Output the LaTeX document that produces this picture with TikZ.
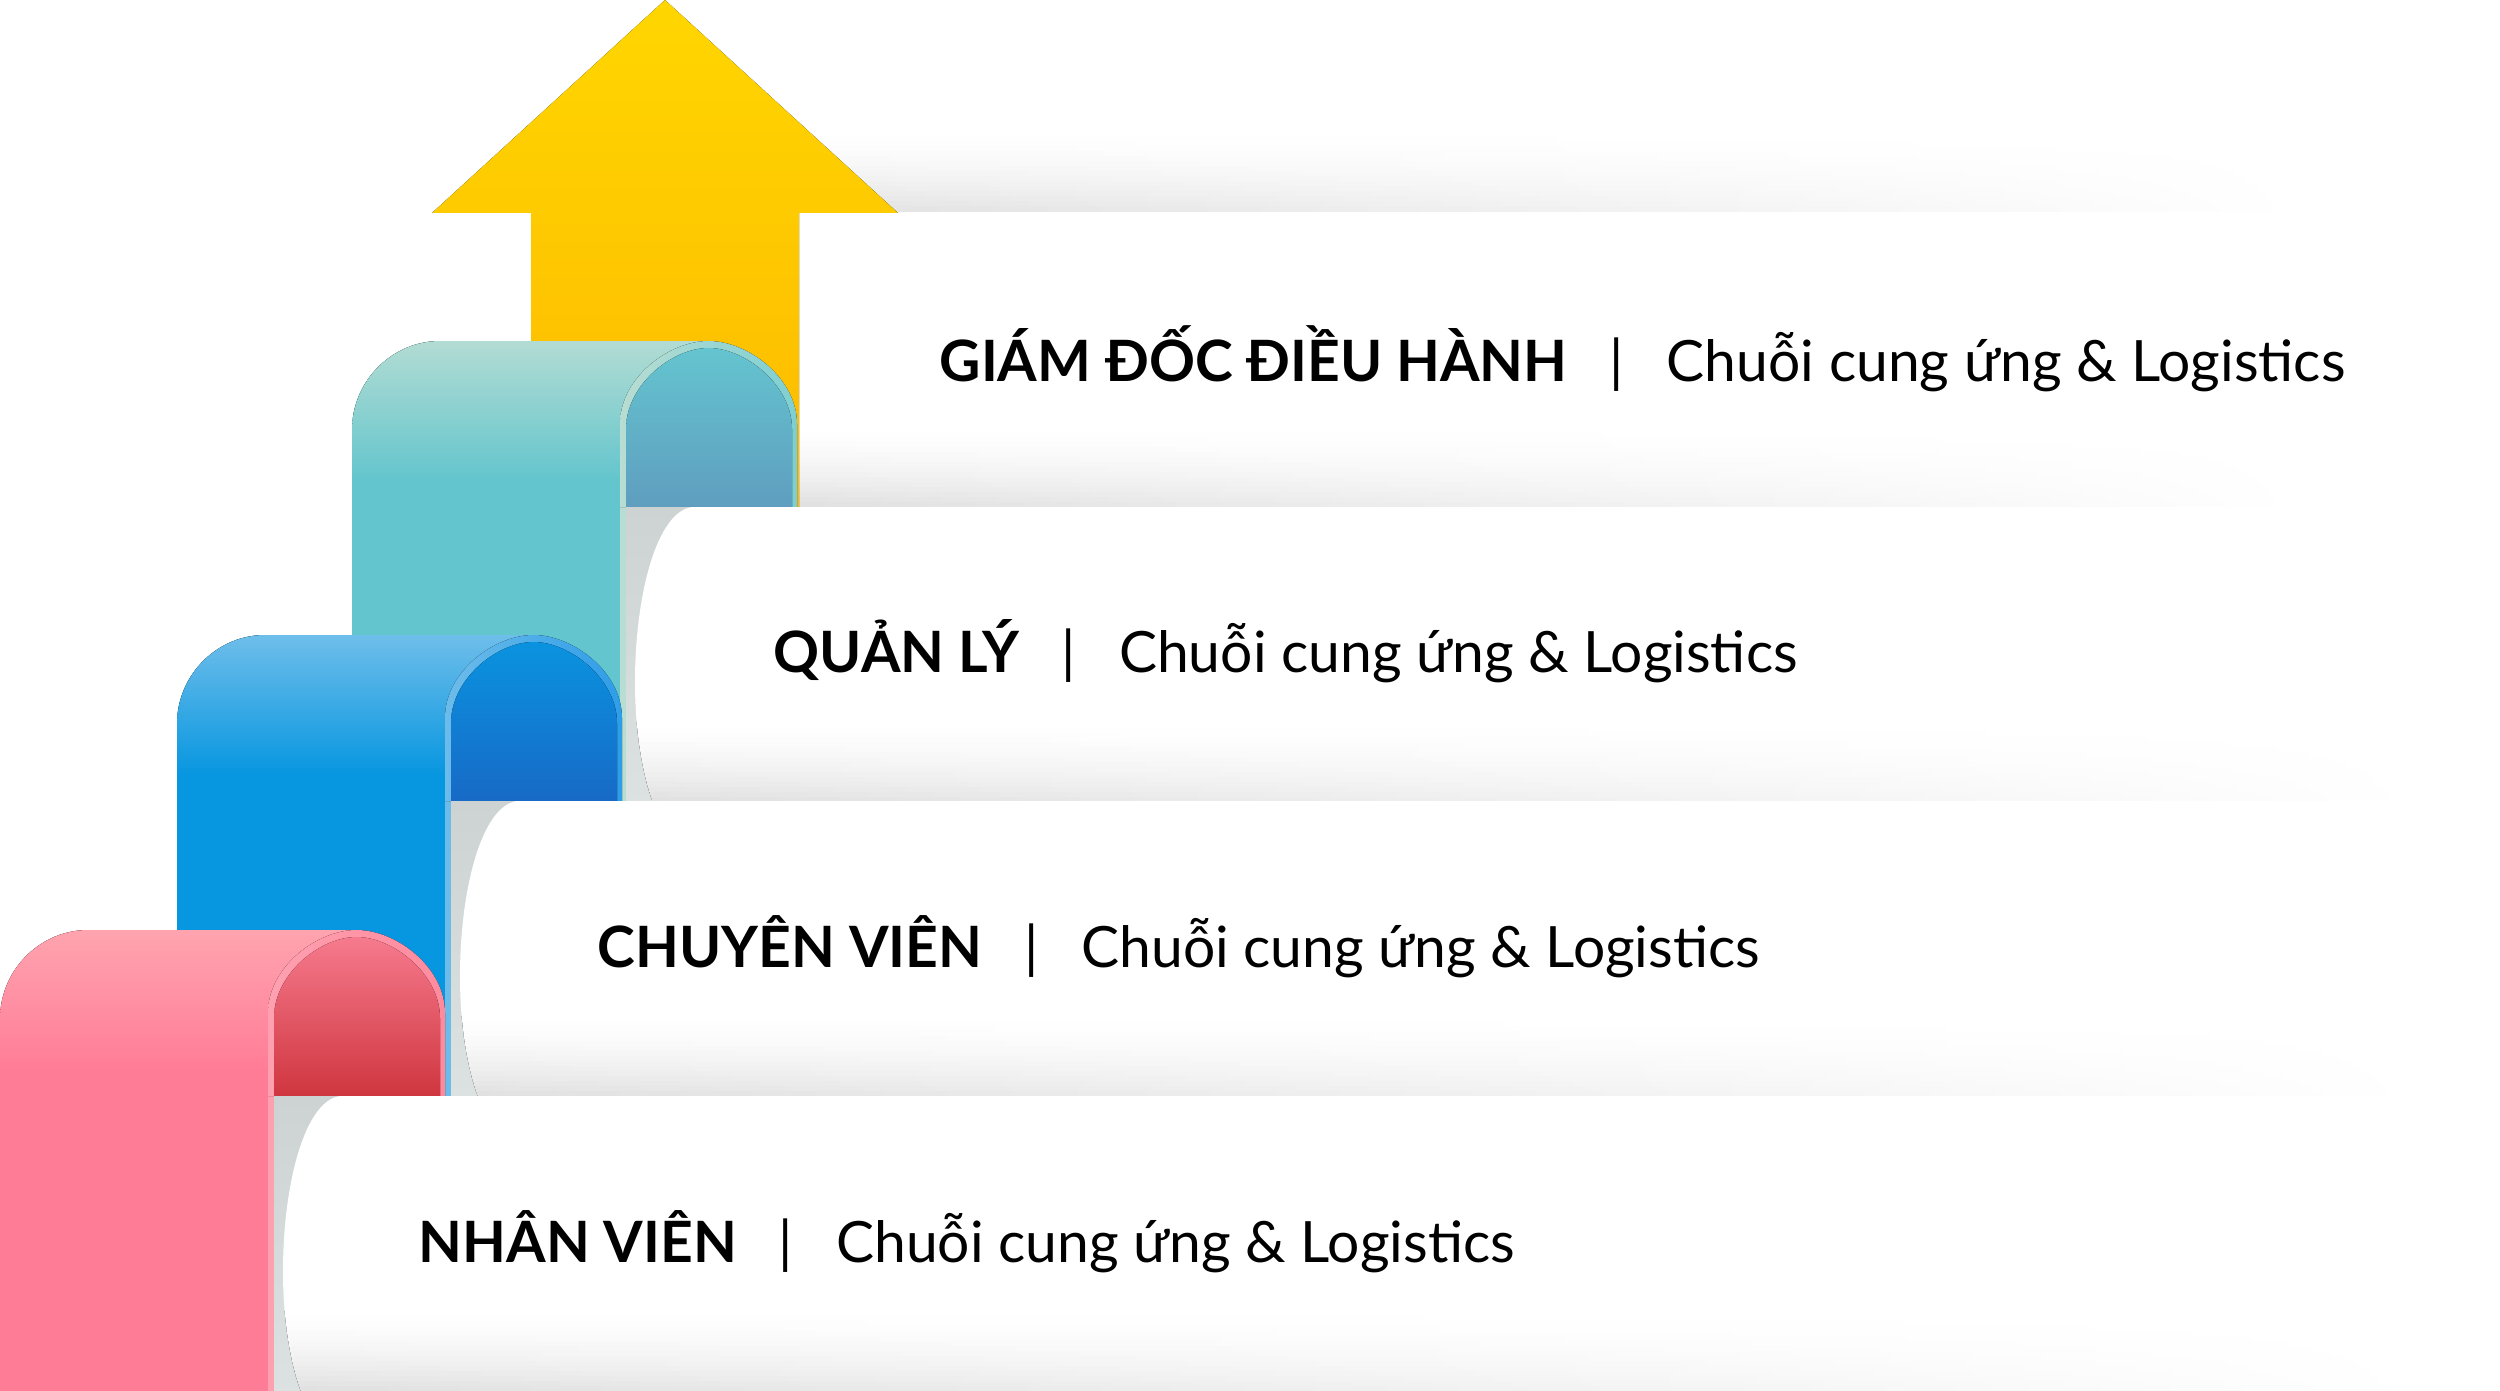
\documentclass[tikz,border=0pt]{standalone}
\usepackage{fontspec}
\setmainfont{Lato}

\definecolor{arrowTop}{HTML}{FFD600}
\definecolor{arrowBot}{HTML}{FDB900}
\definecolor{tealTop}{HTML}{B2DCD3}
\definecolor{tealFront}{HTML}{63C5CD}
\definecolor{tealStripe}{HTML}{B8DDD2}
\definecolor{tealEdge}{HTML}{7ECFD2}
\definecolor{tealBackTop}{HTML}{64C4CF}
\definecolor{tealBackBot}{HTML}{5F9EBF}
\definecolor{blueTop}{HTML}{6EBEEA}
\definecolor{blueFront}{HTML}{0796E0}
\definecolor{blueStripe}{HTML}{6CBCEA}
\definecolor{blueEdge}{HTML}{2E9DE8}
\definecolor{blueBackTop}{HTML}{0A93E0}
\definecolor{blueBackBot}{HTML}{176AC6}
\definecolor{pinkTop}{HTML}{FFA4AF}
\definecolor{pinkFront}{HTML}{FF7C97}
\definecolor{pinkStripe}{HTML}{FFA0B0}
\definecolor{pinkEdge}{HTML}{FF8A9E}
\definecolor{pinkBackTop}{HTML}{F67A8D}
\definecolor{pinkBackBot}{HTML}{CF363F}
\definecolor{capTop}{HTML}{CDD2D3}
\definecolor{capMid}{HTML}{EEF3F3}
\definecolor{capBot}{HTML}{DCE2E2}
\definecolor{shadowGrey}{HTML}{E1E1E1}

\tikzset{
  rank/.style={anchor=base west, inner sep=0pt, font=\fontsize{16.2}{19}\selectfont},
}

% dải bóng mờ: #1 = x trái, #2 = y đáy, #3 = x phải
\newcommand\shadowband[3]{
  \foreach \r in {0,...,15}{
    \pgfmathsetmacro\p{100*((\r+1)/16)^1.6}
    \pgfmathsetmacro\q{0.75*\p}
    \fill[left color=shadowGrey!\p!white, middle color=shadowGrey!\q!white, right color=white]
      (#1,#2-80+5*\r) rectangle (#3,#2-74+5*\r);
  }
}

\begin{document}
\begin{tikzpicture}[x=0.01cm, y=-0.01cm]
  \useasboundingbox (0,0) rectangle (2500,1391);

  % bóng phía trên bậc cao nhất
  \shadowband{700}{212}{2300}
  \fill[white] (0,212) rectangle (2500,220);

  % bậc cao nhất
  \fill[white] (799,212) rectangle (2500,507);
  \shadowband{799}{507}{2300}

  % mũi tên vàng
  \fill[top color=arrowTop, bottom color=arrowBot]
    (665,0) -- (898,213) -- (799,213) -- (799,520) -- (531,520) -- (531,213) -- (432,213) -- cycle;

  % dải lụa và bậc bên dưới
  \foreach \L/\T/\c in {352/341/teal, 177/635/blue, 0/930/pink}{
    % mặt trước
    \fill[\c Front] (\L,1391) -- (\L,\T+89) .. controls (\L,\T+40) and (\L+40,\T) .. (\L+88,\T)
      -- (\L+357,\T) -- (\L+357,\T+166) -- (\L+274,\T+166) -- (\L+274,1391) -- cycle;
    \begin{scope}
      \clip (\L,1391) -- (\L,\T+89) .. controls (\L,\T+40) and (\L+40,\T) .. (\L+88,\T)
        -- (\L+357,\T) -- (\L+357,\T+166) -- (\L+274,\T+166) -- (\L+274,1391) -- cycle;
      \fill[top color=\c Top, bottom color=\c Front] (\L,\T) rectangle (\L+357,\T+140);
    \end{scope}
    \fill[\c Stripe] (\L+268,\T+83) rectangle (\L+274,1391);
    % phần cuộn
    \fill[left color=\c Stripe, right color=\c Edge] (\L+268,\T+166) -- (\L+268,\T+83)
      .. controls (\L+268,\T+37) and (\L+317,\T) .. (\L+356.5,\T)
      .. controls (\L+396,\T) and (\L+445,\T+37) .. (\L+445,\T+83) -- (\L+445,\T+166) -- cycle;
    \fill[top color=\c BackTop, bottom color=\c BackBot] (\L+274,\T+166) -- (\L+274,\T+88)
      .. controls (\L+274,\T+44) and (\L+320,\T+7) .. (\L+356.5,\T+7)
      .. controls (\L+393,\T+7) and (\L+440,\T+44) .. (\L+440,\T+88) -- (\L+440,\T+166) -- cycle;
    % bậc
    \fill[top color=capTop, middle color=capMid, bottom color=capBot]
      (\L+274,\T+166) rectangle (\L+360,\T+462);
    \begin{scope}
      \clip (\L+340,\T+166) .. controls (\L+304,\T+171) and (\L+283,\T+256) .. (\L+283,\T+341)
        .. controls (\L+283,\T+396) and (\L+292,\T+438) .. (\L+301,\T+462) -- (2500,\T+462) -- (2500,\T+166) -- cycle;
      \fill[white] (\L+274,\T+166) rectangle (2500,\T+462);
      \shadowband{\L+280}{\T+461}{2420}
    \end{scope}
  }

  % chữ
  \foreach \n/\x/\y/\t in {giamdoc/939/381/GIÁM ĐỐC ĐIỀU HÀNH, quanly/773/672/QUẢN LÝ,
                          chuyenvien/597/967/CHUYÊN VIÊN, nhanvien/418/1262/NHÂN VIÊN}{
    \node[rank] (\n) at (\x,\y) {\textbf{\t}\hspace{0.42cm}|\hspace{0.43cm}Chuỗi cung ứng \& Logistics};
  }
\end{tikzpicture}
\end{document}
